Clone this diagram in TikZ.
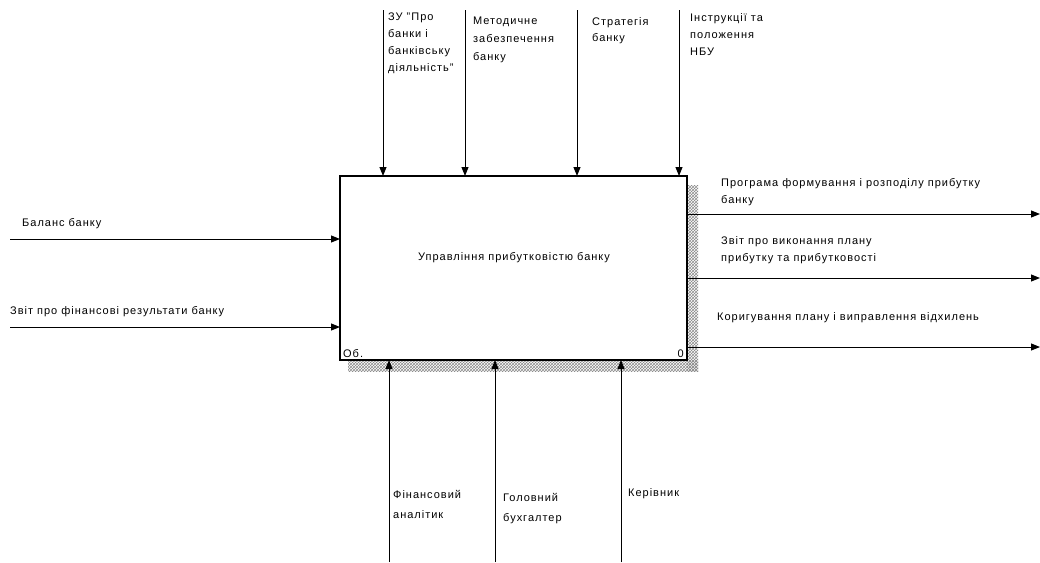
\documentclass[tikz,border=0pt]{standalone}
\usepackage{fontspec}
\setmainfont{Liberation Sans}[LetterSpace=9]
\usetikzlibrary{arrows.meta,patterns}
\begin{document}
\begin{tikzpicture}[x=1pt,y=-1pt,
  flow/.style={line width=1pt,draw=black,-{Triangle[length=9pt,width=7pt]}},
  lbl/.style={anchor=north west,inner sep=0pt,align=left,font=\fontsize{11}{17}\selectfont},
  boxst/.style={draw,line width=1.3pt,fill=white,minimum width=347pt,minimum height=184pt,inner sep=0pt}]
\useasboundingbox (0,0) rectangle (1040,562);
% shadow
\fill[pattern=crosshatch,pattern color=black!45] (687,185) rectangle (698,371);
\fill[pattern=crosshatch,pattern color=black!45] (348,360) rectangle (698,371);
% box
\node[boxst] (box) at (513.5,268) {};
\node[lbl,anchor=center] (title) at (514,258) {Управління прибутковістю банку};
\node[lbl,anchor=base west] (num) at (343,357) {Об.};
\node[lbl,anchor=base east] (zero) at (684,357) {0};
% coordinates
\coordinate (t1) at (383,10); \coordinate (t1e) at (383,176);
\coordinate (t2) at (465,10); \coordinate (t2e) at (465,176);
\coordinate (t3) at (577,10); \coordinate (t3e) at (577,176);
\coordinate (t4) at (679,10); \coordinate (t4e) at (679,176);
\coordinate (b1) at (389,562); \coordinate (b1e) at (389,360);
\coordinate (b2) at (495,562); \coordinate (b2e) at (495,360);
\coordinate (b3) at (621,562); \coordinate (b3e) at (621,360);
\coordinate (l1) at (10,239); \coordinate (l1e) at (340,239);
\coordinate (l2) at (10,327); \coordinate (l2e) at (340,327);
\coordinate (r1) at (687,214); \coordinate (r1e) at (1040,214);
\coordinate (r2) at (687,278); \coordinate (r2e) at (1040,278);
\coordinate (r3) at (687,347); \coordinate (r3e) at (1040,347);
% arrows
\foreach \a in {t1,t2,t3,t4,b1,b2,b3,l1,l2,r1,r2,r3}
  \draw[flow] (\a) -- (\a e);
% labels
\node[lbl] (lt1) at (388,12.5) {ЗУ "Про\\банки і\\банківську\\діяльність"};
\node[lbl,font=\fontsize{11}{18}\selectfont] (lt2) at (473,16.5) {Методичне\\забезпечення\\банку};
\node[lbl,font=\fontsize{11}{16}\selectfont] (lt3) at (592,17.5) {Стратегія\\банку};
\node[lbl] (lt4) at (690,13.5) {Інструкції та\\положення\\НБУ};
\node[lbl] (ll1) at (22,218.5) {Баланс банку};
\node[lbl] (ll2) at (10,306.5) {Звіт про фінансові результати банку};
\node[lbl] (lr1) at (721,178.5) {Програма формування і розподілу прибутку\\банку};
\node[lbl] (lr2) at (721,236.5) {Звіт про виконання плану\\прибутку та прибутковості};
\node[lbl] (lr3) at (717,312.5) {Коригування плану і виправлення відхилень};
\node[lbl,font=\fontsize{11}{20}\selectfont] (lb1) at (393,490.5) {Фінансовий\\аналітик};
\node[lbl,font=\fontsize{11}{20}\selectfont] (lb2) at (503,493.5) {Головний\\бухгалтер};
\node[lbl] (lb3) at (628,488.5) {Керівник};
\end{tikzpicture}
\end{document}
